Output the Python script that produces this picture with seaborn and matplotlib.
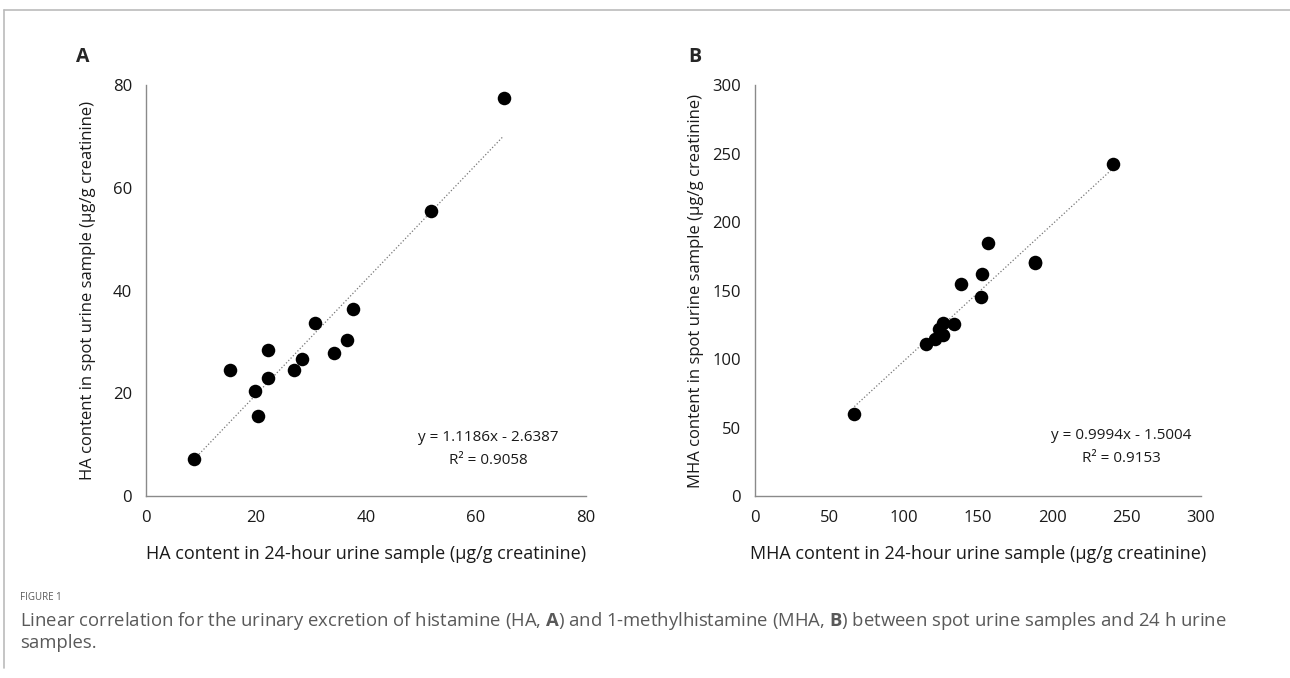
import numpy as np
import matplotlib
matplotlib.use("Agg")
import matplotlib.pyplot as plt
import seaborn as sns
from matplotlib.ticker import MultipleLocator
from matplotlib.lines import Line2D

# Data
ha_24h = [8.8, 15.3, 19.8, 20.3, 22.2, 22.2, 26.9, 28.3, 30.7, 34.1, 36.6, 37.7, 51.8, 65.0]
ha_spot = [7.2, 24.6, 20.5, 15.5, 28.4, 22.9, 24.5, 26.6, 33.6, 27.9, 30.4, 36.5, 55.5, 77.4]
mha_24h = [66.8, 114.9, 121.4, 123.8, 126.6, 126.6, 133.6, 138.6, 151.8, 152.5, 156.6, 188.4, 188.2, 240.6]
mha_spot = [59.6, 111.2, 114.3, 121.9, 126.1, 117.8, 125.8, 154.9, 145.1, 162.2, 184.7, 170.5, 169.8, 242.4]

ha_fit = (1.1186, -2.6387, 0.9058)
mha_fit = (0.9994, -1.5004, 0.9153)

sns.set_style("white")
plt.rcParams['font.family'] = ['Open Sans', 'DejaVu Sans']
plt.rcParams['mathtext.fontset'] = 'custom'
plt.rcParams['mathtext.rm'] = 'Open Sans'
plt.rcParams['mathtext.bf'] = 'Open Sans:bold'

fig = plt.figure(figsize=(12.9, 6.78), dpi=100)
axA = fig.add_axes([0.1132, 0.2684, 0.3411, 0.6062])
axB = fig.add_axes([0.5853, 0.2684, 0.3457, 0.6062])

spine_col = '#8a8a8a'
text_col = '#1a1a1a'


def draw_panel(ax, x, y, fit, lim, major, minor, xlabel, ylabel, eq_xy, ylabelpad):
    sns.scatterplot(x=x, y=y, ax=ax, color='black', s=95, edgecolor='black',
                    linewidth=0, zorder=3)
    a, b, r2 = fit
    xs = np.array([min(x), max(x)])
    ax.plot(xs, a * xs + b, linestyle=':', color='#777777', lw=0.9, zorder=2)
    ax.set_xlim(0, lim)
    ax.set_ylim(0, lim)
    ax.xaxis.set_major_locator(MultipleLocator(major))
    ax.yaxis.set_major_locator(MultipleLocator(major))
    ax.xaxis.set_minor_locator(MultipleLocator(minor))
    ax.yaxis.set_minor_locator(MultipleLocator(minor))
    for s in ['top', 'right']:
        ax.spines[s].set_visible(False)
    for s in ['left', 'bottom']:
        ax.spines[s].set_color(spine_col)
        ax.spines[s].set_linewidth(1.0)
    ax.tick_params(which='major', direction='inout', length=8, width=1.0,
                   color=spine_col, labelsize=12, labelcolor=text_col, pad=6)
    ax.tick_params(which='minor', direction='in', length=4, width=1.0,
                   color=spine_col)
    ax.set_xlabel(xlabel, fontsize=13, color=text_col, labelpad=14)
    ax.set_ylabel(ylabel, fontsize=12, color=text_col, labelpad=ylabelpad)
    ax.text(eq_xy[0], eq_xy[1], f"y = {a:.4f}x - {abs(b):.4f}\nR\u00b2 = {r2:.4f}",
            transform=ax.transAxes, ha='center', va='center', fontsize=11,
            color=text_col, linespacing=1.75)
    ax.set_facecolor('white')


draw_panel(axA, ha_24h, ha_spot, ha_fit, 80, 20, 4,
           'HA content in 24-hour urine sample (µg/g creatinine)',
           'HA content in spot urine sample (µg/g creatinine)', (0.777, 0.115), 12)
draw_panel(axB, mha_24h, mha_spot, mha_fit, 300, 50, 10,
           'MHA content in 24-hour urine sample (µg/g creatinine)',
           'MHA content in spot urine sample (µg/g creatinine)', (0.822, 0.12), 6)

fig.text(83 / 1290, 1 - 57 / 678, 'A', fontsize=14, fontweight='bold', ha='center', va='center')
fig.text(695 / 1290, 1 - 57 / 678, 'B', fontsize=14, fontweight='bold', ha='center', va='center')

# frame lines
fig.add_artist(Line2D([4 / 1290, 1], [1 - 10 / 678] * 2, transform=fig.transFigure,
                      color='#bbbbbb', lw=1.2))
fig.add_artist(Line2D([4 / 1290] * 2, [1 - 10 / 678, 1 - 668 / 678], transform=fig.transFigure,
                      color='#bbbbbb', lw=1.2))

cap_col = '#595959'
fig.text(20 / 1290, 1 - 597 / 678, 'FIGURE 1', fontsize=7, color=cap_col, va='center')
fig.text(20 / 1290, 1 - 621 / 678,
         r'Linear correlation for the urinary excretion of histamine (HA, $\mathbf{A}$) and '
         r'1-methylhistamine (MHA, $\mathbf{B}$) between spot urine samples and 24 h urine',
         fontsize=13.3, color=cap_col, va='center')
fig.text(20 / 1290, 1 - 643 / 678, 'samples.', fontsize=13.3, color=cap_col, va='center')

fig.savefig('out.png', dpi=100, facecolor='white')
